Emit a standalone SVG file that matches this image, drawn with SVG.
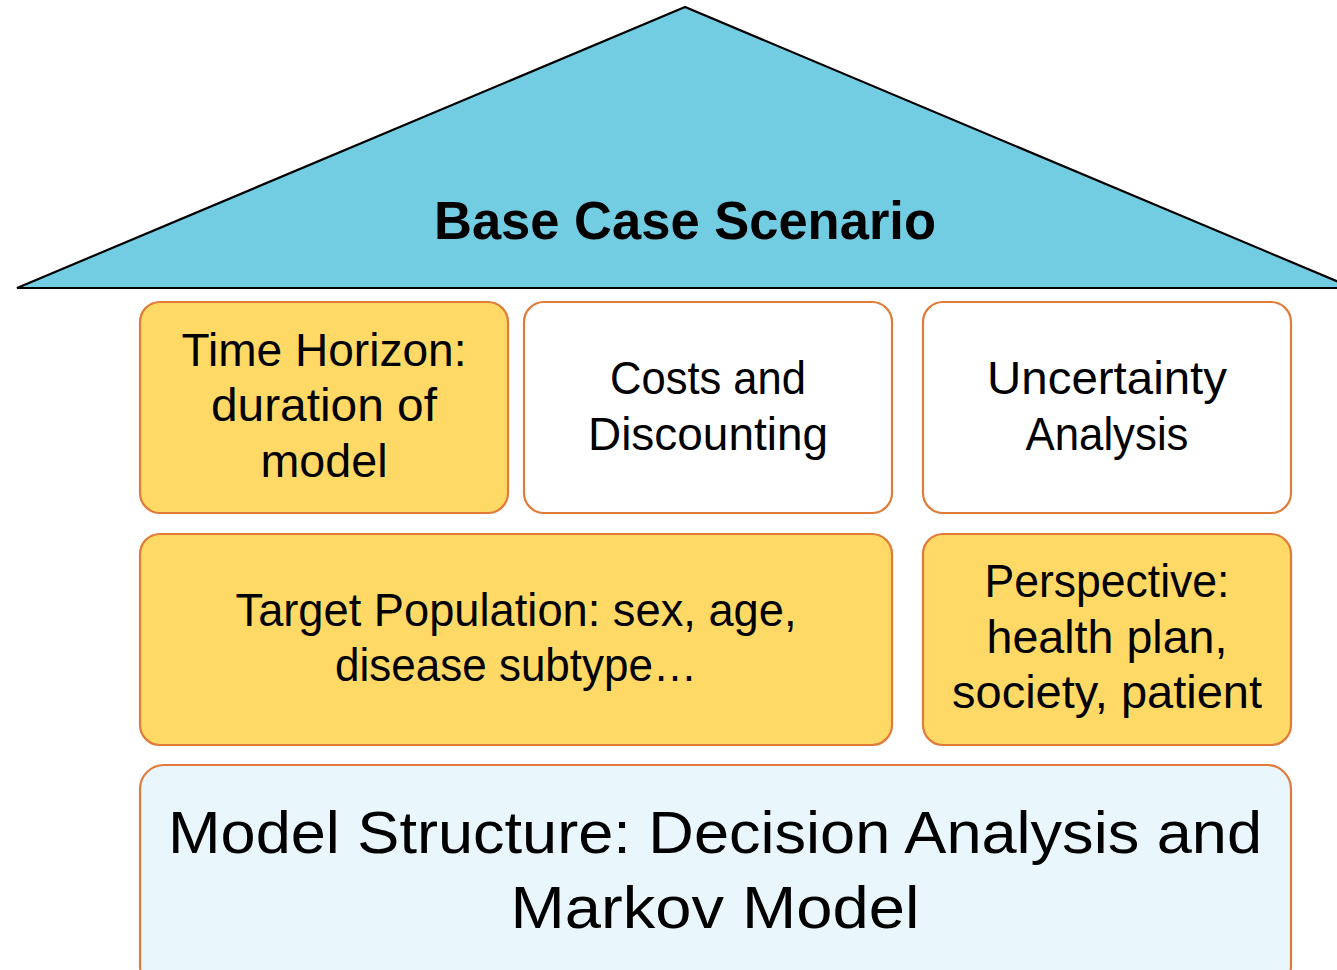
<svg xmlns="http://www.w3.org/2000/svg" width="1337" height="970" viewBox="0 0 1337 970">
<style>
.box{stroke:#E07B39;stroke-width:2.2}
.yel{fill:#FFD966}
.wht{fill:#FFFFFF}
.lb{fill:#E9F6FB}
text{font-family:"Liberation Sans",Arial,sans-serif;fill:#000;text-anchor:middle}
.t{font-size:46px}
.big{font-size:59px}
.title{font-size:53px;font-weight:bold}
</style>
<rect width="1337" height="970" fill="#FFFFFF"/>
<g id="roof">
<polygon points="685,7 17,288 1353,288" fill="#72CCE2" stroke="#000" stroke-width="2.2" stroke-linejoin="miter"/>
<text class="title" x="685" y="239" textLength="502" lengthAdjust="spacingAndGlyphs">Base Case Scenario</text>
</g>
<g id="connectors"></g>
<g id="time-horizon">
<rect class="box yel" x="140" y="302" width="368" height="211" rx="20"/>
<text class="t" x="324" y="366" textLength="285" lengthAdjust="spacingAndGlyphs">Time Horizon:</text>
<text class="t" x="324" y="421" textLength="226" lengthAdjust="spacingAndGlyphs">duration of</text>
<text class="t" x="324" y="477" textLength="127" lengthAdjust="spacingAndGlyphs">model</text>
</g>
<g id="costs">
<rect class="box wht" x="524" y="302" width="368" height="211" rx="20"/>
<text class="t" x="708" y="394" textLength="196" lengthAdjust="spacingAndGlyphs">Costs and</text>
<text class="t" x="708" y="450" textLength="240" lengthAdjust="spacingAndGlyphs">Discounting</text>
</g>
<g id="uncertainty">
<rect class="box wht" x="923" y="302" width="368" height="211" rx="20"/>
<text class="t" x="1107" y="394" textLength="240" lengthAdjust="spacingAndGlyphs">Uncertainty</text>
<text class="t" x="1107" y="450" textLength="163" lengthAdjust="spacingAndGlyphs">Analysis</text>
</g>
<g id="target-population">
<rect class="box yel" x="140" y="534" width="752" height="211" rx="20"/>
<text class="t" x="516" y="626" textLength="561" lengthAdjust="spacingAndGlyphs">Target Population: sex, age,</text>
<text class="t" x="516" y="681" textLength="362" lengthAdjust="spacingAndGlyphs">disease subtype…</text>
</g>
<g id="perspective">
<rect class="box yel" x="923" y="534" width="368" height="211" rx="20"/>
<text class="t" x="1107" y="597" textLength="245" lengthAdjust="spacingAndGlyphs">Perspective:</text>
<text class="t" x="1107" y="653" textLength="241" lengthAdjust="spacingAndGlyphs">health plan,</text>
<text class="t" x="1107" y="708" textLength="310" lengthAdjust="spacingAndGlyphs">society, patient</text>
</g>
<g id="model-structure">
<rect class="box lb" x="140" y="765" width="1151" height="225" rx="24"/>
<text class="big" x="715" y="853" textLength="1094" lengthAdjust="spacingAndGlyphs">Model Structure: Decision Analysis and</text>
<text class="big" x="715" y="928" textLength="409" lengthAdjust="spacingAndGlyphs">Markov Model</text>
</g>
</svg>
